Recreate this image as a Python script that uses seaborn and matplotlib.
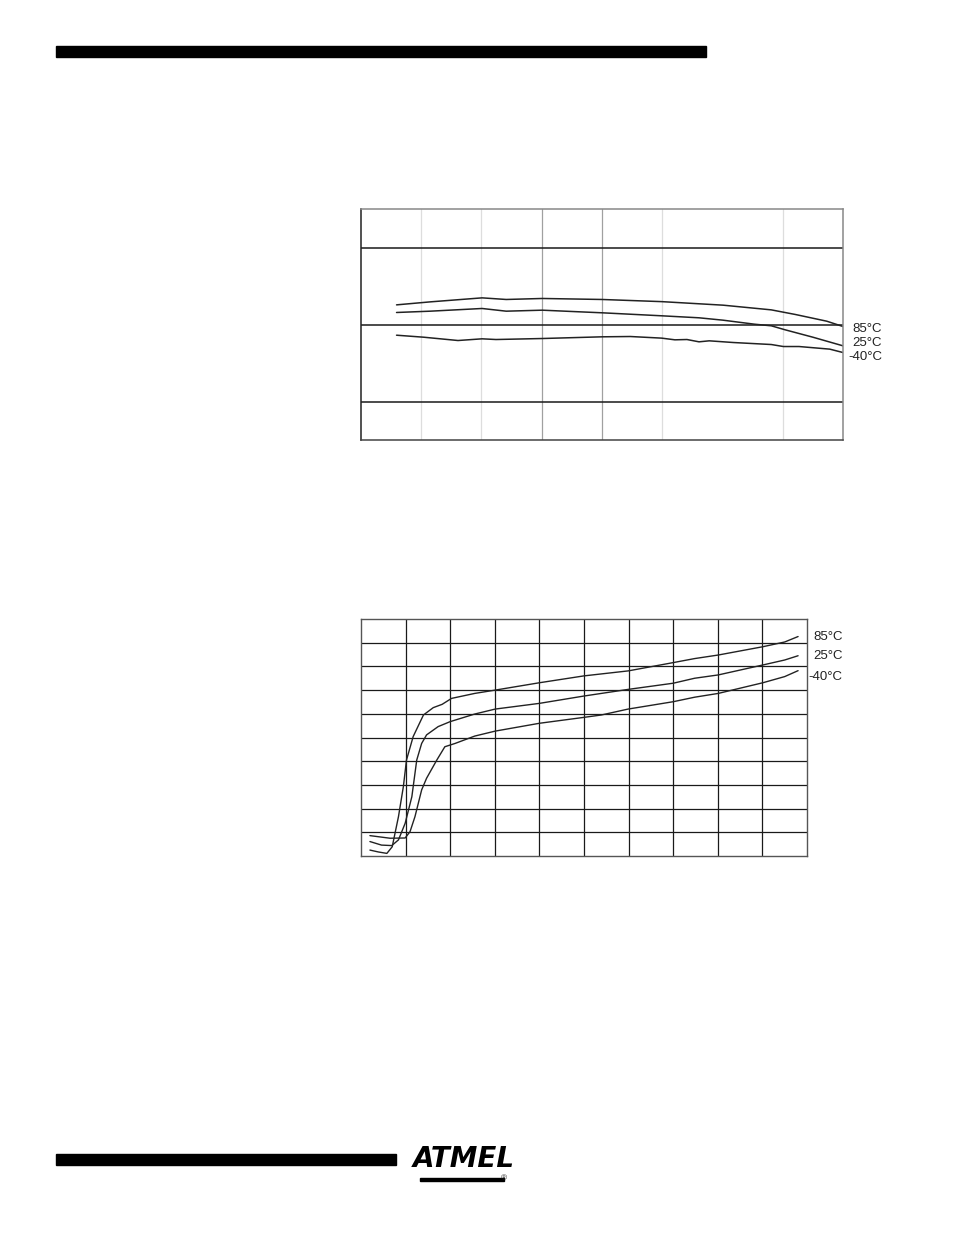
import numpy as np
import pandas as pd
import matplotlib
matplotlib.use("Agg")
import matplotlib.pyplot as plt
import seaborn as sns

# ---- data: top chart (flat curves) ----
top_x_85 = [0.59, 1.15, 2.01, 2.41, 3.01, 4.0, 4.99, 6.01, 6.81, 7.21, 7.73, 8.0]
top_y_85 = [2.255, 2.294, 2.346, 2.325, 2.338, 2.325, 2.297, 2.251, 2.190, 2.130, 2.043, 1.974]
top_x_25 = [0.59, 1.15, 2.01, 2.41, 3.01, 3.50, 4.0, 4.99, 5.61, 6.01, 6.53, 6.81, 7.04, 7.50, 8.0]
top_y_25 = [2.156, 2.173, 2.208, 2.173, 2.186, 2.169, 2.152, 2.113, 2.087, 2.056, 2.004, 1.983, 1.931, 1.835, 1.723]
top_x_m40 = [0.59, 1.04, 1.61, 2.01, 2.24, 3.01, 4.0, 4.47, 4.99, 5.21, 5.41, 5.61, 5.78, 6.18,
             6.81, 7.01, 7.27, 7.78, 8.0]
top_y_m40 = [1.861, 1.835, 1.792, 1.814, 1.805, 1.818, 1.840, 1.844, 1.823, 1.801, 1.805, 1.775,
             1.788, 1.766, 1.740, 1.714, 1.714, 1.680, 1.636]

# ---- data: bottom chart (rising curves) ----
bot_x_85 = [0.20, 0.39, 0.58, 0.70, 0.84, 0.95, 1.02, 1.17, 1.40, 1.62, 1.82, 2.03, 2.55, 3.01,
            4.0, 5.0, 5.99, 7.0, 7.48, 8.01, 9.01, 9.5, 9.8]
bot_y_85 = [0.25, 0.17, 0.11, 0.39, 1.66, 2.93, 4.05, 5.04, 5.95, 6.26, 6.40, 6.65, 6.86, 7.00,
            7.31, 7.60, 7.81, 8.16, 8.33, 8.48, 8.83, 9.03, 9.26]
bot_x_25 = [0.20, 0.46, 0.69, 0.84, 0.99, 1.14, 1.25, 1.36, 1.47, 1.73, 2.0, 2.55, 3.01, 4.0,
            5.0, 5.99, 7.0, 7.48, 8.01, 9.01, 9.5, 9.8]
bot_y_25 = [0.61, 0.46, 0.44, 0.68, 1.38, 2.50, 4.05, 4.75, 5.11, 5.46, 5.67, 5.99, 6.20, 6.44,
            6.75, 7.03, 7.29, 7.50, 7.64, 8.06, 8.27, 8.45]
bot_x_m40 = [0.20, 0.65, 0.99, 1.10, 1.21, 1.36, 1.47, 1.70, 1.88, 2.11, 2.55, 3.01, 4.0, 5.0,
             5.39, 5.99, 7.0, 7.48, 8.01, 9.01, 9.5, 9.8]
bot_y_m40 = [0.86, 0.75, 0.76, 1.03, 1.66, 2.79, 3.28, 4.05, 4.61, 4.75, 5.06, 5.27, 5.60, 5.85,
             5.95, 6.20, 6.51, 6.70, 6.86, 7.31, 7.57, 7.82]

labels = ["85°C", "25°C", "-40°C"]
top_label_y = [1.94, 1.76, 1.58]
bot_label_y = [9.25, 8.45, 7.55]

sns.set_style("white")
plt.rcParams['font.family'] = ['Liberation Sans', 'DejaVu Sans']

fig = plt.figure(figsize=(9.54, 12.35), dpi=100)

# ---------- top chart ----------
ax1 = fig.add_axes([361 / 954, 1 - 440 / 1235, 482 / 954, 231 / 1235])
for xs, ys in [(top_x_85, top_y_85), (top_x_25, top_y_25), (top_x_m40, top_y_m40)]:
    sns.lineplot(x=xs, y=ys, ax=ax1, color="#222222", linewidth=1.1, sort=False,
                 estimator=None)
ax1.set_xlim(0, 8)
ax1.set_ylim(0.5, 3.5)
for xv in [1, 2, 5, 7]:
    ax1.axvline(xv, color="#dddddd", linewidth=0.9, zorder=0)
for xv in [3, 4]:
    ax1.axvline(xv, color="#a0a0a0", linewidth=0.9, zorder=0)
for yv in [1, 2, 3]:
    ax1.axhline(yv, color="#1a1a1a", linewidth=1.1, zorder=0)
ax1.set_xticks([])
ax1.set_yticks([])
ax1.spines['top'].set_color("#888888")
ax1.spines['right'].set_color("#888888")
ax1.spines['left'].set_color("#222222")
ax1.spines['bottom'].set_color("#444444")
for sp in ax1.spines.values():
    sp.set_linewidth(1.1)
for lab, yv in zip(labels, top_label_y):
    ax1.text(8.65, yv, lab, ha="right", va="center", fontsize=9.5, color="#222222",
             clip_on=False)

# ---------- bottom chart ----------
ax2 = fig.add_axes([361 / 954, 1 - 856 / 1235, 446 / 954, 237 / 1235])
for xs, ys in [(bot_x_85, bot_y_85), (bot_x_25, bot_y_25), (bot_x_m40, bot_y_m40)]:
    sns.lineplot(x=xs, y=ys, ax=ax2, color="#222222", linewidth=1.0, sort=False,
                 estimator=None)
ax2.set_xlim(0, 10)
ax2.set_ylim(0, 10)
for v in range(1, 10):
    ax2.axvline(v, color="#1a1a1a", linewidth=0.9, zorder=0)
    ax2.axhline(v, color="#1a1a1a", linewidth=0.9, zorder=0)
ax2.set_xticks([])
ax2.set_yticks([])
for sp in ax2.spines.values():
    sp.set_color("#555555")
    sp.set_linewidth(1.0)
for lab, yv in zip(labels, bot_label_y):
    ax2.text(10.8, yv, lab, ha="right", va="center", fontsize=9.5, color="#222222",
             clip_on=False)

# ---------- page decorations ----------
fig.add_artist(plt.Rectangle((56 / 954, 1 - 57 / 1235), 650 / 954, 11 / 1235,
                             transform=fig.transFigure, color="black"))
fig.add_artist(plt.Rectangle((56 / 954, 1 - 1165 / 1235), 340 / 954, 11 / 1235,
                             transform=fig.transFigure, color="black"))
fig.text(464 / 954, 1 - 1159 / 1235, "ATMEL", ha="center", va="center", fontsize=20,
         fontweight="heavy", fontstyle="italic", color="black", family="DejaVu Sans")
fig.add_artist(plt.Rectangle((420 / 954, 1 - 1181 / 1235), 84 / 954, 3 / 1235,
                             transform=fig.transFigure, color="black"))
fig.text(504 / 954, 1 - 1179 / 1235, "®", ha="center", va="center", fontsize=6)

fig.savefig("out.png", dpi=100)
